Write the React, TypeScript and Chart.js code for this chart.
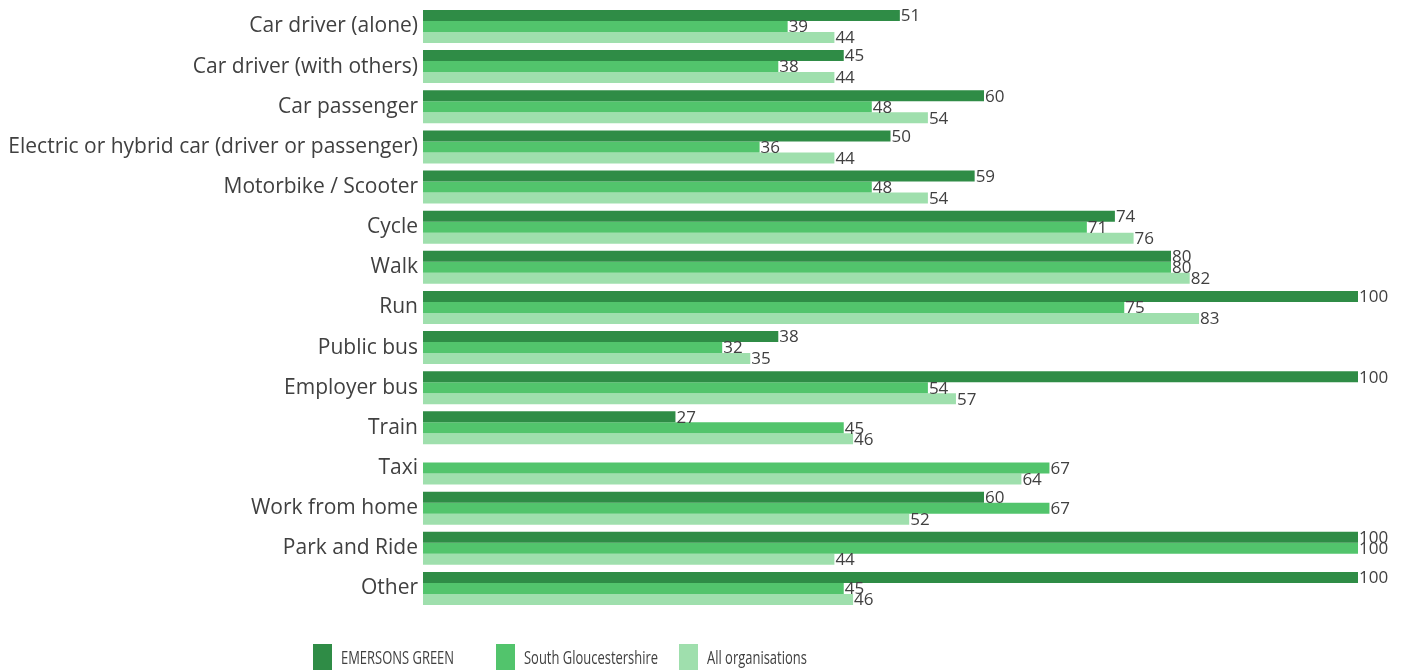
import React, { useEffect, useRef } from "react";
import { Chart, registerables } from "chart.js";

Chart.register(...registerables);

const categories = [
  "Car driver (alone)",
  "Car driver (with others)",
  "Car passenger",
  "Electric or hybrid car (driver or passenger)",
  "Motorbike / Scooter",
  "Cycle",
  "Walk",
  "Run",
  "Public bus",
  "Employer bus",
  "Train",
  "Taxi",
  "Work from home",
  "Park and Ride",
  "Other",
];

const emersonsGreen: (number | null)[] = [51, 45, 60, 50, 59, 74, 80, 100, 38, 100, 27, null, 60, 100, 100];
const southGloucestershire: (number | null)[] = [39, 38, 48, 36, 48, 71, 80, 75, 32, 54, 45, 67, 67, 100, 45];
const allOrganisations: (number | null)[] = [44, 44, 54, 44, 54, 76, 82, 83, 35, 57, 46, 64, 52, 44, 46];

const seriesLabels = ["EMERSONS GREEN", "South Gloucestershire", "All organisations"];
const seriesColors = ["#2F8C46", "#52C46C", "#9FDFAD"];

const FONT = "'Open Sans', 'Noto Sans', sans-serif";
const TEXT_COLOR = "#404040";

const dataLabelPlugin = {
  id: "barValueLabels",
  afterDatasetsDraw(chart: any) {
    const ctx = chart.ctx;
    ctx.save();
    ctx.font = `17px ${FONT}`;
    ctx.fillStyle = TEXT_COLOR;
    ctx.textAlign = "left";
    ctx.textBaseline = "middle";
    chart.data.datasets.forEach((ds: any, i: number) => {
      const meta = chart.getDatasetMeta(i);
      meta.data.forEach((bar: any, j: number) => {
        const v = ds.data[j];
        if (v === null || v === undefined) return;
        ctx.fillText(String(v), bar.x + 1, bar.y + 1);
      });
    });
    ctx.restore();
  },
};

const legendPlugin = {
  id: "slotLegend",
  afterDraw(chart: any) {
    const ctx = chart.ctx;
    const startX = 313;
    const slot = 183;
    const boxTop = 644;
    const boxW = 19;
    const boxH = 26;
    ctx.save();
    chart.data.datasets.forEach((ds: any, i: number) => {
      const x = startX + i * slot;
      ctx.fillStyle = ds.backgroundColor;
      ctx.fillRect(x, boxTop, boxW, boxH);
      ctx.save();
      ctx.translate(x + boxW + 9, boxTop + 15);
      ctx.scale(0.72, 1.05);
      ctx.font = `18px ${FONT}`;
      ctx.fillStyle = TEXT_COLOR;
      ctx.textAlign = "left";
      ctx.textBaseline = "middle";
      ctx.fillText(ds.label, 0, 0);
      ctx.restore();
    });
    ctx.restore();
  },
};

export default function App() {
  const canvasRef = useRef<HTMLCanvasElement | null>(null);

  useEffect(() => {
    if (!canvasRef.current) return;
    const chart = new Chart(canvasRef.current, {
      type: "bar",
      data: {
        labels: categories,
        datasets: [
          { label: seriesLabels[0], data: emersonsGreen, backgroundColor: seriesColors[0] },
          { label: seriesLabels[1], data: southGloucestershire, backgroundColor: seriesColors[1] },
          { label: seriesLabels[2], data: allOrganisations, backgroundColor: seriesColors[2] },
        ],
      },
      options: {
        indexAxis: "y",
        animation: false,
        responsive: false,
        maintainAspectRatio: false,
        datasets: {
          bar: { categoryPercentage: 0.822, barPercentage: 1.0, borderWidth: 0 },
        },
        layout: { padding: { left: 0, right: 47, top: 6.4, bottom: 61.5 } },
        plugins: {
          legend: { display: false },
          tooltip: { enabled: false },
        },
        scales: {
          x: { display: false, min: 0, max: 100 },
          y: {
            grid: { display: false, drawTicks: false },
            border: { display: false },
            ticks: {
              padding: 5,
              color: TEXT_COLOR,
              font: { family: FONT, size: 21 },
              autoSkip: false,
            },
            afterFit: (scale: any) => {
              scale.width = 423;
              scale.paddingTop = 0;
              scale.paddingBottom = 0;
            },
          },
        },
      },
      plugins: [dataLabelPlugin, legendPlugin],
    });
    return () => chart.destroy();
  }, []);

  return (
    <div style={{ position: "absolute", left: 0, top: 0, width: 1405, height: 670, background: "#fff" }}>
      <canvas ref={canvasRef} width={1405} height={670} style={{ width: 1405, height: 670 }} />
    </div>
  );
}
